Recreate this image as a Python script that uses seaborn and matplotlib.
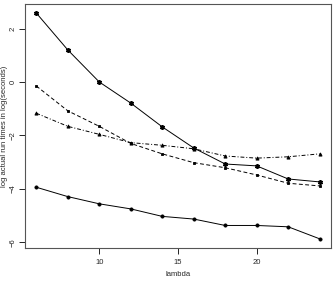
import pandas as pd
import matplotlib
matplotlib.use("Agg")
import matplotlib.pyplot as plt
import seaborn as sns

lam = [6, 8, 10, 12, 14, 16, 18, 20, 22, 24]
serie_a = [2.58, 1.20, 0.00, -0.79, -1.68, -2.47, -3.07, -3.14, -3.63, -3.74]
serie_b = [-0.15, -1.08, -1.66, -2.30, -2.69, -3.02, -3.21, -3.48, -3.79, -3.89]
serie_c = [-1.17, -1.66, -1.96, -2.27, -2.37, -2.50, -2.77, -2.85, -2.80, -2.69]
serie_d = [-3.94, -4.29, -4.56, -4.75, -5.03, -5.13, -5.37, -5.37, -5.42, -5.87]

sns.set_style("white")
plt.rcParams["font.family"] = ["Liberation Sans", "DejaVu Sans"]

fig = plt.figure(figsize=(3.33, 2.83), dpi=100)
ax = fig.add_axes([0.075, 0.124, 0.919, 0.862])

estilos = [
    (serie_a, "-", (6, 2, 0), 3.5),
    (serie_b, (0, (4, 2.5)), "s", 2.0),
    (serie_c, (0, (4, 2, 1, 2)), "^", 2.3),
    (serie_d, "-", "o", 2.3),
]
for valores, ls, mk, ms in estilos:
    df = pd.DataFrame({"lambda": lam, "y": valores})
    sns.lineplot(data=df, x="lambda", y="y", ax=ax, color="black", linewidth=0.7,
                 linestyle=ls, marker=mk, markersize=ms, markeredgecolor="black",
                 markeredgewidth=0.6)
ax.plot(lam, serie_a, linestyle="none", marker="o", markersize=3.0,
        markerfacecolor="none", markeredgecolor="black", markeredgewidth=0.5)

ax.set_xlim(5.28, 24.72)
ax.set_ylim(-6.21, 2.92)
ax.set_xticks([10, 15, 20])
ax.set_yticks([-6, -4, -2, 0, 2])
ax.tick_params(axis="both", direction="out", length=4, width=0.6, labelsize=5.5,
               color="black", bottom=True, left=True)
ax.tick_params(axis="x", pad=4)
ax.tick_params(axis="y", pad=2)
for lbl in ax.get_yticklabels():
    lbl.set_rotation(90)
    lbl.set_va("center")
for sp in ax.spines.values():
    sp.set_color("#555555")
    sp.set_linewidth(0.8)
ax.set_xlabel("lambda", fontsize=5.5)
ax.set_ylabel("log actual run times in log(seconds)", fontsize=5.5)
ax.xaxis.set_label_coords(0.5, -0.11)
ax.xaxis.label.set_va("center")
ax.yaxis.set_label_coords(-0.068, 0.5)
ax.yaxis.label.set_va("center")

fig.savefig("out.png", dpi=100)
